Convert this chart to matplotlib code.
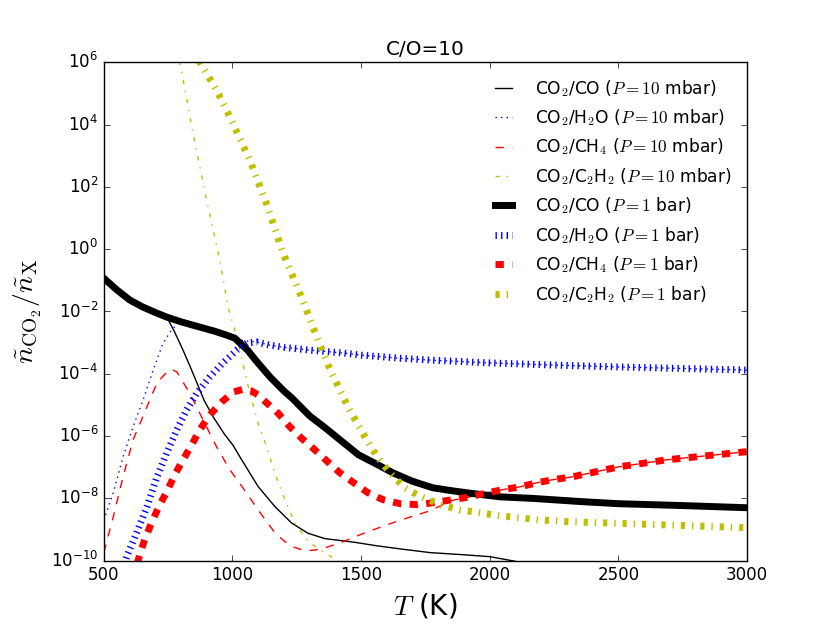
import numpy as np
import matplotlib
matplotlib.use("Agg")
import matplotlib.pyplot as plt
from matplotlib.ticker import NullLocator

plt.style.use("classic")

# ----- data: log10 of n_CO2/n_X -----

# CO2/CO, P=1 bar
T_co_1 = [500, 550, 601, 650, 700, 745, 800, 873, 930, 978, 1010, 1029, 1060, 1090,
          1146, 1200, 1233, 1300, 1363, 1430, 1490, 1560, 1624, 1700, 1779, 1850,
          1911, 2040, 2168, 2350, 2500, 2750, 3000]
lg_co_1 = [-0.93, -1.3, -1.63, -1.85, -2.03, -2.18, -2.33, -2.5, -2.63, -2.76, -2.86,
           -3.01, -3.25, -3.56, -4.1, -4.55, -4.79, -5.35, -5.75, -6.2, -6.6, -6.9,
           -7.18, -7.45, -7.66, -7.75, -7.82, -7.95, -8.0, -8.1, -8.17, -8.23, -8.3]

# CO2/CO, P=10 mbar
T_co_10 = [500, 550, 601, 650, 700, 745, 775, 808, 835, 862, 890, 925, 970, 1003,
           1036, 1100, 1165, 1230, 1294, 1359, 1476, 1560, 1651, 1768, 1900, 2000, 2100]
lg_co_10 = [-0.93, -1.3, -1.63, -1.85, -2.03, -2.18, -2.65, -3.24, -3.75, -4.29,
            -4.85, -5.38, -5.95, -6.3, -6.76, -7.62, -8.26, -8.79, -9.12, -9.29,
            -9.41, -9.52, -9.62, -9.74, -9.81, -9.87, -10.02]

# CO2/H2O, P=10 mbar
T_h2o_10 = [500, 537, 575, 614, 653, 692, 731, 763, 788, 810, 873, 930, 978, 1010,
            1040, 1095, 1146, 1200, 1300, 1429, 1500, 1650, 1768, 2000, 2250, 2500,
            2750, 3000]
lg_h2o_10 = [-8.7, -7.82, -6.67, -5.7, -4.84, -3.88, -3.01, -2.6, -2.38, -2.36,
             -2.5, -2.63, -2.76, -2.86, -2.93, -2.98, -3.08, -3.15, -3.24, -3.33,
             -3.4, -3.5, -3.56, -3.65, -3.72, -3.78, -3.83, -3.88]

# CO2/H2O, P=1 bar
T_h2o_1 = [580, 589, 628, 668, 707, 745, 784, 822, 862, 912, 963, 1017, 1056, 1095,
           1146, 1200, 1300, 1429, 1500, 1650, 1768, 2000, 2250, 2500, 2750, 3000]
lg_h2o_1 = [-10.1, -9.87, -9.1, -8.27, -7.31, -6.54, -5.8, -5.16, -4.62, -4.1,
            -3.65, -3.24, -3.01, -2.98, -3.08, -3.15, -3.24, -3.33, -3.4, -3.5,
            -3.56, -3.65, -3.72, -3.78, -3.83, -3.88]

# CO2/CH4, P=10 mbar
T_ch4_10 = [500, 537, 575, 614, 668, 707, 750, 765, 784, 834, 886, 939, 990, 1040,
            1100, 1165, 1200, 1230, 1281, 1320, 1359, 1424, 1495, 1560, 1624, 1690,
            1756, 1806, 1845, 1923, 1990, 2050, 2117, 2183, 2245, 2320, 2500, 2689,
            3000]
lg_ch4_10 = [-9.74, -8.59, -7.31, -6.12, -5.06, -4.29, -3.9, -3.86, -3.94, -4.62,
             -5.48, -6.35, -7.08, -7.65, -8.37, -9.1, -9.36, -9.54, -9.68, -9.66,
             -9.59, -9.41, -9.17, -8.97, -8.78, -8.6, -8.43, -8.25, -8.08, -7.95,
             -7.82, -7.72, -7.63, -7.5, -7.4, -7.31, -6.99, -6.76, -6.5]

# CO2/CH4, P=1 bar
T_ch4_1 = [630, 640, 660, 690, 718, 745, 776, 808, 842, 873, 912, 959, 1005, 1040,
           1074, 1100, 1126, 1178, 1223, 1269, 1320, 1370, 1418, 1472, 1527, 1585,
           1651, 1721, 1779, 1857, 1923, 1990, 2050, 2117, 2183, 2245, 2320, 2500,
           2689, 3000]
lg_ch4_1 = [-10.1, -9.8, -9.3, -8.7, -8.2, -7.79, -7.24, -6.76, -6.28, -5.8, -5.32,
            -4.9, -4.58, -4.5, -4.55, -4.68, -4.88, -5.27, -5.7, -6.07, -6.44, -6.82,
            -7.18, -7.5, -7.82, -8.04, -8.17, -8.2, -8.14, -8.04, -7.95, -7.82,
            -7.72, -7.63, -7.5, -7.4, -7.31, -6.99, -6.76, -6.5]

# CO2/C2H2, P=10 mbar
T_c2h2_10 = [795, 847, 900, 951, 983, 1017, 1042, 1068, 1100, 1133, 1165, 1204,
             1243, 1294, 1359, 1420]
lg_c2h2_10 = [6.05, 3.72, 1.57, -0.35, -1.85, -2.82, -3.72, -4.63, -5.59, -6.34,
              -7.19, -8.04, -8.79, -9.38, -9.75, -10.05]

# CO2/C2H2, P=1 bar
T_c2h2_1 = [870, 939, 1002, 1068, 1133, 1197, 1262, 1290, 1320, 1349, 1380, 1418,
            1449, 1484, 1522, 1566, 1612, 1670, 1717, 1736, 1806, 1884, 1961, 2040,
            2195, 2312, 2500, 2750, 3000]
lg_c2h2_1 = [6.05, 5.1, 4.04, 2.85, 1.45, -0.13, -1.41, -2.0, -2.65, -3.24, -3.88,
             -4.52, -5.06, -5.58, -6.12, -6.7, -7.18, -7.66, -7.88, -7.95, -8.2,
             -8.37, -8.46, -8.56, -8.69, -8.75, -8.8, -8.87, -8.94]

# ----- plot -----

fig = plt.figure(figsize=(8.3, 6.23), dpi=100)
ax = fig.add_subplot(111)

ax.plot(T_co_10, 10.0**np.array(lg_co_10), "k-", lw=1,
        label=r"CO$_2$/CO ($P=10$ mbar)")
ax.plot(T_h2o_10, 10.0**np.array(lg_h2o_10), "b:", lw=1,
        label=r"CO$_2$/H$_2$O ($P=10$ mbar)")
ax.plot(T_ch4_10, 10.0**np.array(lg_ch4_10), "r--", lw=1,
        label=r"CO$_2$/CH$_4$ ($P=10$ mbar)")
ax.plot(T_c2h2_10, 10.0**np.array(lg_c2h2_10), "y-.", lw=1,
        label=r"CO$_2$/C$_2$H$_2$ ($P=10$ mbar)")
ax.plot(T_co_1, 10.0**np.array(lg_co_1), "k-", lw=5,
        label=r"CO$_2$/CO ($P=1$ bar)")
ax.plot(T_h2o_1, 10.0**np.array(lg_h2o_1), "b:", lw=5,
        label=r"CO$_2$/H$_2$O ($P=1$ bar)")
ax.plot(T_ch4_1, 10.0**np.array(lg_ch4_1), "r--", lw=5,
        label=r"CO$_2$/CH$_4$ ($P=1$ bar)")
ax.plot(T_c2h2_1, 10.0**np.array(lg_c2h2_1), "y-.", lw=5,
        label=r"CO$_2$/C$_2$H$_2$ ($P=1$ bar)")

ax.set_yscale("log")
ax.set_xlim(500, 3000)
ax.set_ylim(1e-10, 1e6)
ax.set_xticks([500, 1000, 1500, 2000, 2500, 3000])
ax.set_yticks(10.0**np.arange(-10, 7, 2))
ax.yaxis.set_minor_locator(NullLocator())

ax.set_xlabel(r"$T$ (K)", fontsize=20)
ax.set_ylabel(r"$\tilde{n}_{\rm CO_2}/\tilde{n}_{\rm X}$", fontsize=20)
ax.set_title("C/O=10")
ax.legend(loc="upper right", frameon=False, fontsize=12.3, handlelength=1.6,
          handletextpad=1.05)

fig.savefig("out.png", dpi=100)
